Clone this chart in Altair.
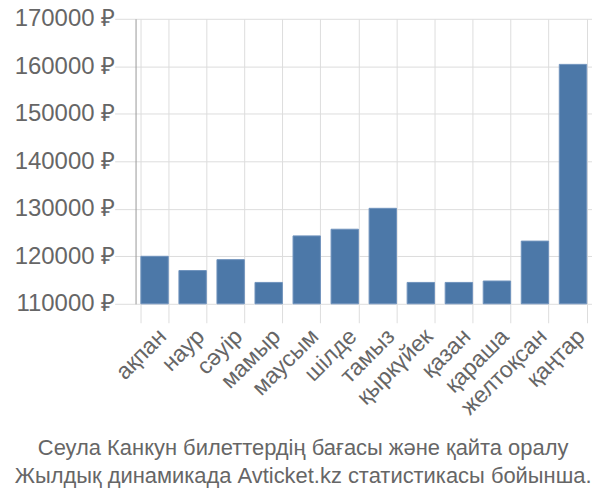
import altair as alt
import pandas as pd

months = ["ақпан", "наур", "сәуір", "мамыр", "маусым", "шілде", "тамыз",
          "қыркүйек", "қазан", "қараша", "желтоқсан", "қаңтар"]
prices = [120000, 117000, 119300, 114500, 124300, 125700, 130100,
          114500, 114500, 114800, 123200, 160400]
y_ticks = [110000, 120000, 130000, 140000, 150000, 160000, 170000]
title_lines = ["Сеула Канкун билеттердің бағасы және қайта оралу",
               "Жылдық динамикада Avticket.kz статистикасы бойынша."]

df = pd.DataFrame({"month": months, "price": prices})

FONT = "Liberation Sans"
GRAY = "#666666"

chart = alt.Chart(df).mark_bar(color="#4c78a8", stroke="#6f93bd", strokeWidth=1).encode(
    x=alt.X("month:N", sort=months, title=None,
            scale=alt.Scale(paddingInner=0.28, paddingOuter=0.14),
            axis=alt.Axis(labelAngle=-45, labelFontSize=23, labelColor=GRAY,
                          labelFont=FONT, tickBand="extent", grid=True,
                          gridColor="#dddddd", domain=False, ticks=True,
                          tickSize=19, tickColor="#dddddd", labelPadding=2)),
    y=alt.Y("price:Q", title=None,
            scale=alt.Scale(domain=[110000, 170000], nice=False, zero=False, clamp=True),
            axis=alt.Axis(values=y_ticks, labelExpr="datum.value + ' ₽'",
                          labelFontSize=24, labelColor=GRAY, labelFont=FONT,
                          gridColor="#dddddd", tickColor="#dddddd", tickSize=21,
                          domainColor="#999999", labelPadding=0)),
    y2=alt.datum(110000),
).properties(
    width=458, height=286,
    padding={"left": 128, "top": 10, "right": 0, "bottom": 184},
    autosize=alt.AutoSizeParams(type="none"),
    title=alt.TitleParams(text=title_lines, orient="bottom", anchor="middle",
                          frame="bounds", fontSize=22, font=FONT, color=GRAY,
                          fontWeight="normal", offset=19, lineHeight=28),
).configure_view(stroke=None)

chart.save("out.html", embed_options={"renderer": "svg", "actions": False})
